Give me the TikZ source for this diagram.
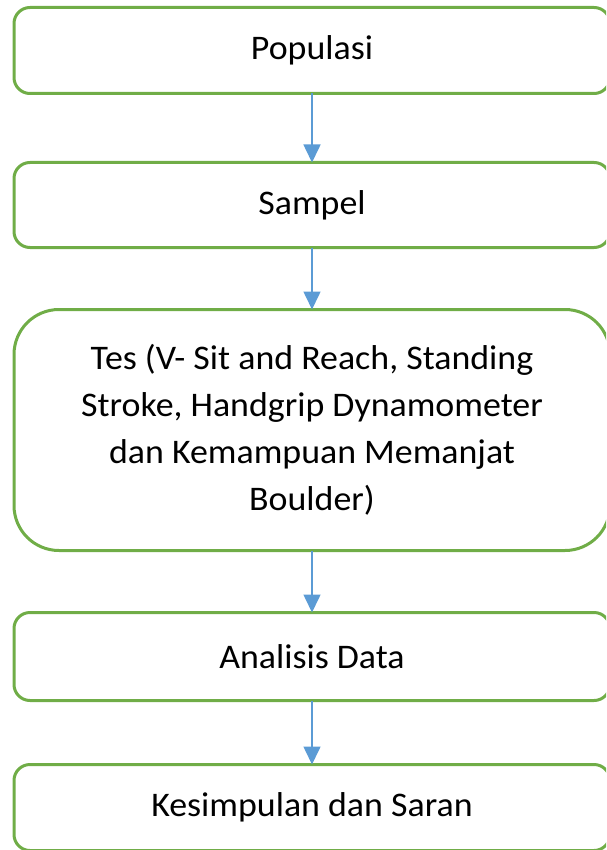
\documentclass[tikz,border=0pt]{standalone}
\usepackage{fontspec}
\setmainfont{Carlito}[FakeStretch=1.04]
\usetikzlibrary{positioning,arrows.meta}
\definecolor{boxgreen}{RGB}{112,173,71}
\definecolor{arrowblue}{RGB}{91,155,213}

\begin{document}
\begin{tikzpicture}[x=1pt, y=1pt,
    box/.style={draw=boxgreen, line width=3pt, rounded corners=16pt, outer sep=0pt,
      minimum width=596pt, minimum height=86pt, align=center,
      font=\fontsize{34.5}{47}\selectfont},
    bigbox/.style={box, rounded corners=45pt, minimum height=241pt},
    flow/.style={color=arrowblue, line width=1.6pt, -{Triangle[width=17pt,length=18pt]}}]
  \useasboundingbox (0,0) rectangle (606,-850);
  \clip (0,0) rectangle (606,-850);

  \node[box] (pop) at (312,-50.5) {Populasi};
  \node[box, below=69pt of pop, minimum height=85pt] (sampel) {Sampel};
  \node[bigbox, below=62pt of sampel] (tes)
    {Tes (V- Sit and Reach, Standing\\ Stroke, Handgrip Dynamometer\\ dan Kemampuan Memanjat\\ Boulder)};
  \node[box, below=62pt of tes, minimum height=88pt] (analisis) {Analisis Data};
  \node[box, below=64pt of analisis, minimum height=86pt] (simpul) {Kesimpulan dan Saran};

  \path[flow] (pop) edge (sampel)
              (sampel) edge (tes)
              (tes) edge (analisis)
              (analisis) edge (simpul);
\end{tikzpicture}
\end{document}
